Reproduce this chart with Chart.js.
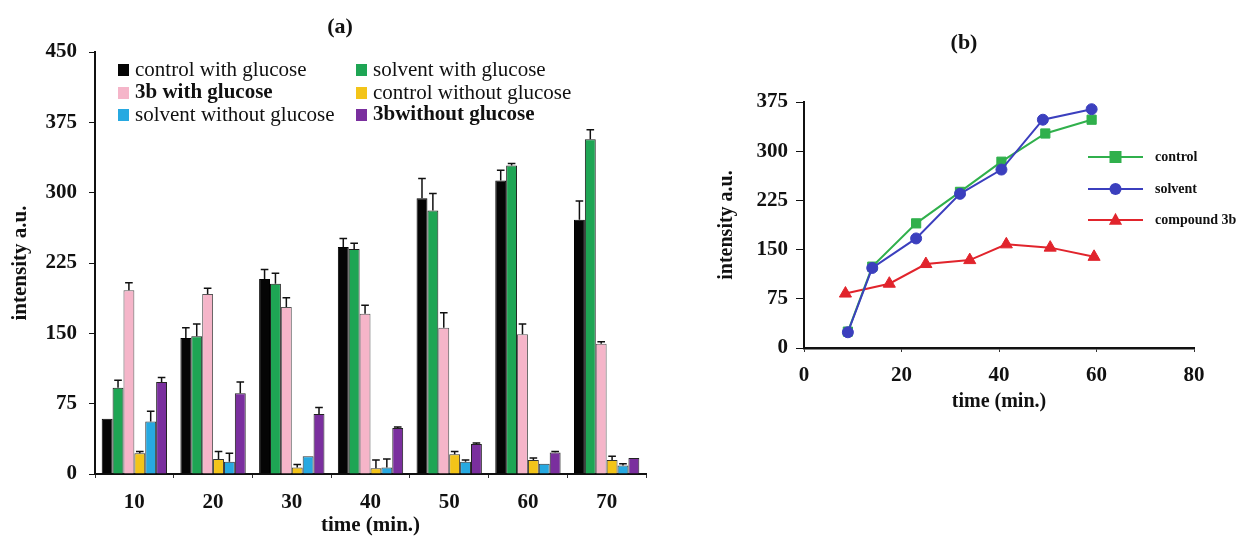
<!DOCTYPE html>
<html>
<head>
<meta charset="utf-8">
<script src="https://cdn.jsdelivr.net/npm/chart.js@4/dist/chart.umd.min.js"></script>
<style>
  html, body { margin: 0; padding: 0; background: #fff; }
  #wrap { position: relative; width: 1238px; height: 538px; overflow: hidden; }
  #barChart { position: absolute; left: 0; top: 0; }
  #lineChart { position: absolute; left: 680px; top: 0; }
</style>
</head>
<body>
<div id="wrap">
  <canvas id="barChart" width="660" height="538"></canvas>
  <canvas id="lineChart" width="558" height="538"></canvas>
</div>
<script>
// (a) bar chart data
const times = ['10', '20', '30', '40', '50', '60', '70'];
const yTicksA = [0, 75, 150, 225, 300, 375, 450];

const controlWith = [59, 145, 208, 242, 294, 313, 271];
const controlWithErr = [0, 11, 10, 9, 21, 11, 20];
const solventWith = [92, 147, 203, 240, 281, 329, 357];
const solventWithErr = [8, 13, 11, 6, 18, 2, 10];
const b3With = [196, 192, 178, 171, 156, 149, 139];
const b3WithErr = [8, 6, 10, 9, 16, 11, 2];
const controlWithout = [22, 16, 7, 6, 21, 15, 15];
const controlWithoutErr = [2, 8, 3, 9, 3, 2, 4];
const solventWithout = [56, 13, 19, 7, 13, 11, 9];
const solventWithoutErr = [11, 9, 0, 9, 2, 0, 2];
const b3Without = [98, 86, 64, 49, 32, 23, 17];
const b3WithoutErr = [5, 12, 7, 1, 1, 1, 0];

// (b) line chart data
const xTicksB = [0, 20, 40, 60, 80];
const yTicksB = [0, 75, 150, 225, 300, 375];
const controlX = [9, 14, 23, 32, 40.5, 49.5, 59];
const control = [25, 124, 190, 238, 284, 327, 348];
const solventX = [9, 14, 23, 32, 40.5, 49, 59];
const solvent = [24, 122, 167, 235, 272, 348, 364];
const compoundX = [8.5, 17.5, 25, 34, 41.5, 50.5, 59.5];
const compound = [83, 98, 128, 134, 158, 153, 139];

const serif = "'Liberation Serif', 'Times New Roman', serif";
Chart.defaults.font.family = serif;
Chart.defaults.color = '#111';

const panelTitle = {
  id: 'panelTitle',
  afterDraw(chart, args, opts) {
    const ctx = chart.ctx;
    ctx.save();
    ctx.font = 'bold 22px ' + serif;
    ctx.fillStyle = '#111';
    ctx.textAlign = 'center';
    ctx.textBaseline = 'middle';
    ctx.fillText(opts.text, opts.x, opts.y);
    ctx.restore();
  }
};

const errorBars = {
  id: 'errorBars',
  afterDatasetsDraw(chart) {
    const ctx = chart.ctx;
    const y = chart.scales.y;
    ctx.save();
    ctx.strokeStyle = '#111';
    ctx.lineWidth = 1.5;
    chart.data.datasets.forEach((ds, i) => {
      chart.getDatasetMeta(i).data.forEach((bar, j) => {
        const e = ds.errors[j];
        if (!e) return;
        const top = y.getPixelForValue(ds.data[j] + e);
        const half = bar.width * 0.35;
        ctx.beginPath();
        ctx.moveTo(bar.x, bar.y);
        ctx.lineTo(bar.x, top);
        ctx.moveTo(bar.x - half, top);
        ctx.lineTo(bar.x + half, top);
        ctx.stroke();
      });
    });
    ctx.restore();
  }
};

const barLegend = {
  id: 'barLegend',
  afterDraw(chart) {
    const ctx = chart.ctx;
    const a = chart.chartArea;
    const cols = [a.left + 23, a.left + 261];
    const rows = [a.top + 18, a.top + 41, a.top + 63];
    ctx.save();
    ctx.textBaseline = 'middle';
    chart.data.datasets.forEach((ds, i) => {
      const x = cols[i % 2];
      const y = rows[Math.floor(i / 2)];
      ctx.fillStyle = ds.backgroundColor;
      ctx.fillRect(x, y - 6, 11, 12);
      ctx.font = (ds.boldLabel ? 'bold ' : '') + '21px ' + serif;
      ctx.fillStyle = '#111';
      ctx.fillText(ds.label, x + 17, y);
    });
    ctx.restore();
  }
};

function marker(ctx, style, x, y, r, color) {
  ctx.fillStyle = color;
  ctx.beginPath();
  if (style === 'rect') {
    ctx.rect(x - r, y - r, 2 * r, 2 * r);
  } else if (style === 'triangle') {
    ctx.moveTo(x, y - r * 1.2);
    ctx.lineTo(x + r * 1.1, y + r * 0.8);
    ctx.lineTo(x - r * 1.1, y + r * 0.8);
    ctx.closePath();
  } else {
    ctx.arc(x, y, r, 0, Math.PI * 2);
  }
  ctx.fill();
}

const lineLegend = {
  id: 'lineLegend',
  afterDraw(chart) {
    const ctx = chart.ctx;
    const a = chart.chartArea;
    const x1 = a.left + 284, x2 = a.left + 339;
    const rows = [a.top + 55, a.top + 87, a.top + 118];
    ctx.save();
    ctx.textBaseline = 'middle';
    ctx.font = 'bold 14px ' + serif;
    chart.data.datasets.forEach((ds, i) => {
      const y = rows[i];
      ctx.strokeStyle = ds.borderColor;
      ctx.lineWidth = 2;
      ctx.beginPath();
      ctx.moveTo(x1, y);
      ctx.lineTo(x2, y);
      ctx.stroke();
      marker(ctx, ds.pointStyle, (x1 + x2) / 2, y, 6, ds.backgroundColor);
      ctx.fillStyle = '#111';
      ctx.fillText(ds.label, x2 + 12, y);
    });
    ctx.restore();
  }
};

const tickFont = { size: 21, weight: 'bold', lineHeight: 1.2 };
const titleFont = { size: 21, weight: 'bold', lineHeight: 1.2 };

function barSet(label, data, errors, color, border, bold) {
  return {
    label, data, errors,
    backgroundColor: color,
    borderColor: border,
    borderWidth: 1,
    borderSkipped: 'bottom',
    boldLabel: bold
  };
}

new Chart(document.getElementById('barChart'), {
  type: 'bar',
  data: {
    labels: times,
    datasets: [
      barSet('control with glucose', controlWith, controlWithErr, '#050505', '#000', false),
      barSet('solvent with glucose', solventWith, solventWithErr, '#1ea554', '#1b1b1b', false),
      barSet('3b with glucose', b3With, b3WithErr, '#f5b5c9', '#555', true),
      barSet('control without glucose', controlWithout, controlWithoutErr, '#f3c419', '#333', false),
      barSet('solvent without glucose', solventWithout, solventWithoutErr, '#27a9e1', '#333', false),
      barSet('3bwithout glucose', b3Without, b3WithoutErr, '#7a2f9e', '#222', true)
    ]
  },
  options: {
    responsive: false,
    animation: false,
    layout: { padding: { left: 8, top: 52, right: 14, bottom: 0 } },
    datasets: { bar: { categoryPercentage: 0.83, barPercentage: 1.0 } },
    plugins: {
      legend: { display: false },
      tooltip: { enabled: false },
      panelTitle: { text: '(a)', x: 340, y: 27 }
    },
    scales: {
      x: {
        grid: { display: true, drawOnChartArea: false, tickLength: 4, color: '#333' },
        border: { display: true, color: '#111', width: 2 },
        ticks: { font: tickFont, padding: 12, color: '#111' },
        title: { display: true, text: 'time (min.)', font: titleFont, padding: 0, color: '#111' },
        afterFit(scale) { scale.height = 64; }
      },
      y: {
        min: 0, max: 450,
        afterBuildTicks(scale) { scale.ticks = yTicksA.map(v => ({ value: v })); },
        grid: { display: true, drawOnChartArea: false, tickLength: 6, color: '#111' },
        border: { display: true, color: '#111', width: 2 },
        ticks: { font: tickFont, padding: 12, color: '#111' },
        title: { display: true, text: 'intensity a.u.', font: titleFont, padding: 0, color: '#111' },
        afterFit(scale) { scale.width = 87; }
      }
    }
  },
  plugins: [errorBars, barLegend, panelTitle]
});

const pts = (xs, ys) => xs.map((x, i) => ({ x, y: ys[i] }));

function lineSet(label, xs, ys, color, style, r, order) {
  return {
    label, data: pts(xs, ys), order,
    borderColor: color, backgroundColor: color,
    borderWidth: 2, pointStyle: style, pointRadius: r,
    pointBorderWidth: 1, pointBorderColor: color
  };
}

new Chart(document.getElementById('lineChart'), {
  type: 'line',
  data: {
    datasets: [
      lineSet('control', controlX, control, '#30b04c', 'rect', 6.5, 1),
      lineSet('solvent', solventX, solvent, '#3b3fbe', 'circle', 5.5, 0),
      lineSet('compound 3b', compoundX, compound, '#e1242c', 'triangle', 7, 2)
    ]
  },
  options: {
    responsive: false,
    animation: false,
    layout: { padding: { left: 35, top: 102, right: 44, bottom: 124 } },
    plugins: {
      legend: { display: false },
      tooltip: { enabled: false },
      panelTitle: { text: '(b)', x: 284, y: 43 }
    },
    scales: {
      x: {
        type: 'linear', min: 0, max: 80,
        afterBuildTicks(scale) { scale.ticks = xTicksB.map(v => ({ value: v })); },
        grid: { display: true, drawOnChartArea: false, tickLength: 4, color: '#333' },
        border: { display: true, color: '#111', width: 2.5 },
        ticks: { font: tickFont, padding: 11, color: '#111' },
        title: { display: true, text: 'time (min.)', font: { size: 20, weight: 'bold', lineHeight: 1.2 }, padding: 0, color: '#111' },
        afterFit(scale) { scale.height = 66; }
      },
      y: {
        min: 0, max: 375,
        afterBuildTicks(scale) { scale.ticks = yTicksB.map(v => ({ value: v })); },
        grid: { display: true, drawOnChartArea: false, tickLength: 8, color: '#111' },
        border: { display: true, color: '#111', width: 2 },
        ticks: { font: tickFont, padding: 8, color: '#111' },
        title: { display: true, text: 'intensity a.u.', font: { size: 20, weight: 'bold', lineHeight: 1.2 }, padding: 0, color: '#111' },
        afterFit(scale) { scale.width = 89; }
      }
    }
  },
  plugins: [lineLegend, panelTitle]
});
</script>
</body>
</html>
